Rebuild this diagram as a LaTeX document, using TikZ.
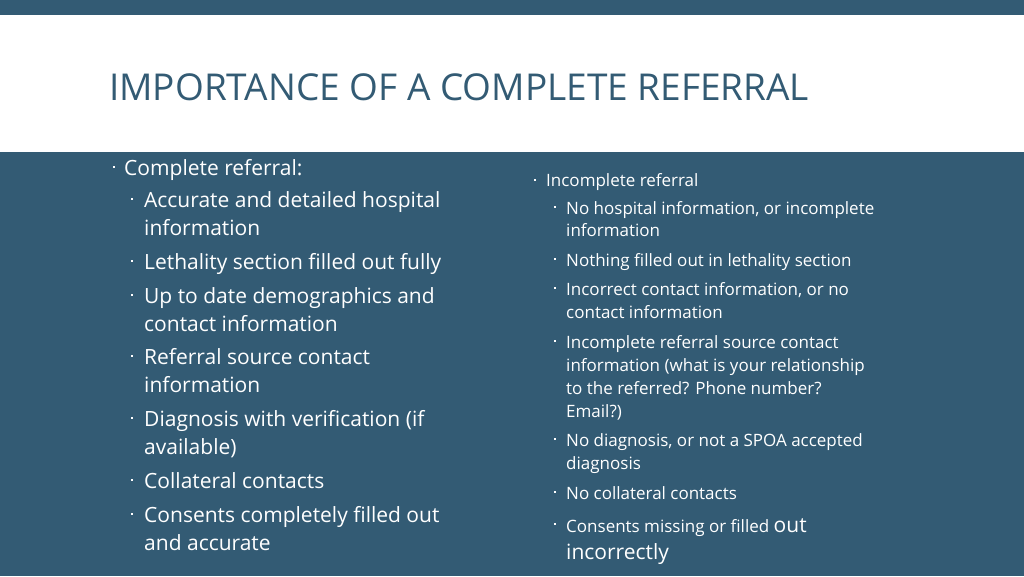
\documentclass[tikz,border=0pt]{standalone}
\usepackage{fontspec}
\setmainfont{Open Sans}
\definecolor{slate}{HTML}{335B74}
\begin{document}
\begin{tikzpicture}[x=1pt,y=-1pt,
  L/.style={anchor=base west,inner sep=0pt,text=white,font=\fontsize{21}{24}\selectfont},
  R/.style={anchor=base west,inner sep=0pt,text=white,font=\fontsize{17}{20}\selectfont},
  sq/.style={fill=white,draw=none,minimum size=2.6pt,inner sep=0pt}]
\useasboundingbox (0,0) rectangle (1024,576);
\fill[slate] (0,0) rectangle (1024,576);
\fill[white] (0,15) rectangle (1024,152);
\node[anchor=base west,inner sep=0pt,text=slate,font=\fontsize{37}{40}\selectfont] (title) at (109,100) {IMPORTANCE OF A COMPLETE REFERRAL};
% left
\foreach \x/\y in {114/167,132/199,132/261,132/295,132/356,132/418,132/480,132/514}
  \node[sq] at (\x,\y) {};
\node[L] (l1) at (124,175) {Complete referral:};
\node[L] (l2) at (144,207) {Accurate and detailed hospital};
\node[L] (l3) at (144,235) {information};
\node[L] (l4) at (144,269) {Lethality section filled out fully};
\node[L] (l5) at (144,303) {Up to date demographics and};
\node[L] (l6) at (144,331) {contact information};
\node[L] (l7) at (144,364) {Referral source contact};
\node[L] (l8) at (144,392) {information};
\node[L] (l9) at (144,426) {Diagnosis with verification (if};
\node[L] (l10) at (144,454) {available)};
\node[L] (l11) at (144,488) {Collateral contacts};
\node[L] (l12) at (144,522) {Consents completely filled out};
\node[L] (l13) at (144,550) {and accurate};
% right
\foreach \x/\y in {535/180,555/207,555/259,555/288,555/341,555/439,555/492,555/524}
  \node[sq,minimum size=2.2pt] at (\x,\y) {};
\node[R] (r1) at (546,186) {Incomplete referral};
\node[R] (r2) at (566,214) {No hospital information, or incomplete};
\node[R] (r3) at (566,236) {information};
\node[R] (r4) at (566,266) {Nothing filled out in lethality section};
\node[R] (r5) at (566,295) {Incorrect contact information, or no};
\node[R] (r6) at (566,318) {contact information};
\node[R] (r7) at (566,348) {Incomplete referral source contact};
\node[R] (r8) at (566,371) {information (what is your relationship};
\node[R] (r9) at (566,394) {to the referred? Phone number?};
\node[R] (r10) at (566,417) {Email?)};
\node[R] (r11) at (566,446) {No diagnosis, or not a SPOA accepted};
\node[R] (r12) at (566,469) {diagnosis};
\node[R] (r13) at (566,499) {No collateral contacts};
\node[R] (r14) at (566,532) {Consents missing or filled {\fontsize{21}{24}\selectfont out}};
\node[L] (r15) at (566,559) {incorrectly};
\end{tikzpicture}
\end{document}
